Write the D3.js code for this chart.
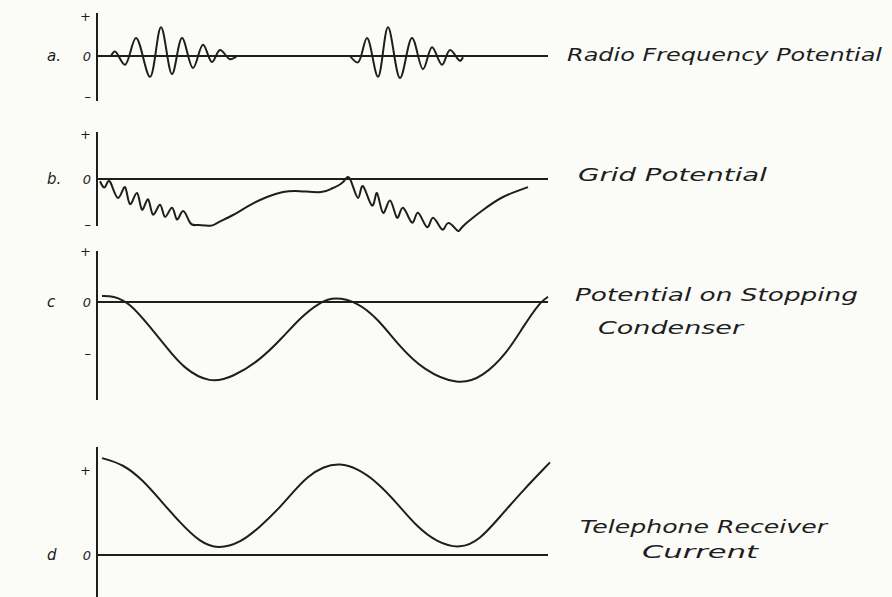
<!DOCTYPE html>
<html>
<head>
<meta charset="utf-8">
<script src="https://cdn.jsdelivr.net/npm/d3@7"></script>
<style>
  html, body { margin: 0; padding: 0; background: #fbfbf8; }
  svg { display: block; }
</style>
</head>
<body>
<script>
'use strict';

var width = 892,
    height = 597;

// values, as [time, relative potential]
var radioFreq1 = [
  [1.4, 0], [1.8, 0.11], [2.8, -0.22], [3.9, 0.45], [5.3, -0.52], [6.4, 0.72],
  [7.5, -0.45], [8.5, 0.45], [9.6, -0.30], [10.6, 0.28], [11.5, -0.15],
  [12.3, 0.15], [13.3, -0.08], [14.0, 0]
];
var radioFreq2 = [
  [25.3, 0], [26.1, -0.16], [27.0, 0.45], [28.1, -0.52], [29.1, 0.72],
  [30.3, -0.55], [31.5, 0.45], [32.6, -0.33], [33.5, 0.22], [34.5, -0.22],
  [35.3, 0.15], [36.3, -0.12], [36.6, -0.03]
];
var gridPotential = [
  [0.3, -0.05], [0.8, -0.18], [1.3, -0.06], [2.1, -0.42], [2.8, -0.18],
  [3.3, -0.56], [4.0, -0.31], [4.5, -0.68], [5.1, -0.45], [5.6, -0.79],
  [6.3, -0.57], [6.8, -0.84], [7.5, -0.64], [8.0, -0.90], [8.6, -0.71],
  [9.3, -0.97], [10.1, -1.02], [11.3, -1.04], [12.0, -0.98], [13.6, -0.80],
  [15.3, -0.58], [17.0, -0.40], [18.6, -0.29], [20.3, -0.27], [22.4, -0.29],
  [23.6, -0.20], [24.6, -0.07], [25.3, 0], [26.1, -0.42], [26.6, -0.16],
  [27.5, -0.59], [28.0, -0.31], [28.6, -0.75], [29.3, -0.48], [30.0, -0.86],
  [30.6, -0.64], [31.5, -0.97], [32.1, -0.75], [33.0, -1.07], [33.6, -0.86],
  [34.5, -1.12], [35.1, -0.98], [36.0, -1.14], [36.6, -1.05], [38.6, -0.69],
  [40.6, -0.40], [43.1, -0.18]
];
var condenserPotential = [
  [0.5, 0.12], [1.6, 0.12], [3.3, -0.02], [5.3, -0.49], [7.0, -0.90],
  [8.6, -1.29], [11.3, -1.60], [13.6, -1.47], [16.3, -1.14], [18.6, -0.69],
  [20.3, -0.31], [22.3, 0], [23.8, 0.10], [26.0, 0], [28.0, -0.31],
  [30.3, -0.88], [32.6, -1.33], [36.1, -1.64], [38.6, -1.47], [41.0, -1.00],
  [42.6, -0.49], [44.3, 0], [45.1, 0.10]
];
var receiverCurrent = [
  [0.5, 1.14], [2.6, 1.07], [4.6, 0.88], [6.3, 0.65], [8.3, 0.38],
  [10.3, 0.15], [12.1, 0.07], [14.3, 0.14], [16.3, 0.33], [18.3, 0.56],
  [19.6, 0.74], [21.0, 0.92], [22.6, 1.04], [24.3, 1.08], [26.0, 1.02],
  [28.0, 0.86], [30.0, 0.61], [32.0, 0.33], [34.0, 0.15], [36.3, 0.07],
  [38.3, 0.18], [40.3, 0.45], [42.6, 0.76], [45.3, 1.09]
];

var panelLetters = ["a.", "b.", "c", "d"];
var panelTitles = [
  ["Radio Frequency Potential"],
  ["Grid Potential"],
  ["Potential on Stopping", "Condenser"],
  ["Telephone Receiver", "Current"]
];
var tickSymbols = { "-1": "\u2013", "0": "0", "1": "+" };

var ink = "#1e1e1e",
    handFont = "'DejaVu Sans', sans-serif";

var svg = d3.select("body").append("svg")
    .attr("width", width)
    .attr("height", height);

svg.append("rect")
    .attr("width", width)
    .attr("height", height)
    .attr("fill", "#fbfbf8");

var x = d3.scaleLinear().domain([0, 45.1]).range([97, 548]);

var wavy = d3.curveCatmullRom.alpha(0.5),
    smooth = d3.curveBasis;

// one entry per strip, top to bottom
var panels = [
  { series: [radioFreq1, radioFreq2], curve: wavy,
    y: d3.scaleLinear().domain([-1, 1]).range([96, 16]),
    ticks: [-1, 0, 1], axisTop: 13, axisBottom: 101,
    titleX: [567], titleY: [61], titleW: [315] },
  { series: [gridPotential], curve: d3.curveNatural,
    y: d3.scaleLinear().domain([-1, 1]).range([224, 134]),
    ticks: [-1, 0, 1], axisTop: 132, axisBottom: 226,
    titleX: [578], titleY: [181], titleW: [189] },
  { series: [condenserPotential], curve: smooth,
    y: d3.scaleLinear().domain([-1, 1]).range([353, 251]),
    ticks: [-1, 0, 1], axisTop: 251, axisBottom: 400,
    titleX: [575, 598], titleY: [301, 334], titleW: [283, 145] },
  { series: [receiverCurrent], curve: smooth,
    y: d3.scaleLinear().domain([0, 1]).range([555, 470]),
    ticks: [0, 1], axisTop: 447, axisBottom: 600,
    titleX: [580, 642], titleY: [533, 558], titleW: [247, 116] }
];

panels.forEach(function(p, i) {
  var g = svg.append("g").attr("class", "panel");

  // vertical axis
  g.append("line")
      .attr("x1", x(0)).attr("x2", x(0))
      .attr("y1", p.axisTop).attr("y2", p.axisBottom)
      .attr("stroke", ink)
      .attr("stroke-width", 2);

  // zero line
  g.append("line")
      .attr("x1", x(0)).attr("x2", x(45.1))
      .attr("y1", p.y(0)).attr("y2", p.y(0))
      .attr("stroke", ink)
      .attr("stroke-width", 2);

  var axis = g.append("g")
      .attr("transform", "translate(" + x(0) + ",0)")
      .call(d3.axisLeft(p.y)
          .tickValues(p.ticks)
          .tickSize(0)
          .tickPadding(6)
          .tickFormat(function(v) { return tickSymbols[String(v)]; }));
  axis.select(".domain").remove();
  axis.selectAll("text")
      .style("font-family", handFont)
      .style("font-size", "13px")
      .style("font-style", "italic")
      .attr("fill", ink);

  var line = d3.line()
      .x(function(d) { return x(d[0]); })
      .y(function(d) { return p.y(d[1]); })
      .curve(p.curve);

  g.selectAll("path.curve")
      .data(p.series)
      .enter().append("path")
      .attr("class", "curve")
      .attr("d", line)
      .attr("fill", "none")
      .attr("stroke", ink)
      .attr("stroke-width", 2)
      .attr("stroke-linejoin", "round");

  g.append("text")
      .attr("x", 47)
      .attr("y", p.y(0) + 5)
      .text(panelLetters[i])
      .style("font-family", handFont)
      .style("font-size", "15px")
      .style("font-style", "italic")
      .attr("fill", ink);

  g.selectAll("text.title")
      .data(panelTitles[i])
      .enter().append("text")
      .attr("class", "title")
      .attr("x", function(d, j) { return p.titleX[j]; })
      .attr("y", function(d, j) { return p.titleY[j]; })
      .attr("textLength", function(d, j) { return p.titleW[j]; })
      .attr("lengthAdjust", "spacingAndGlyphs")
      .text(function(d) { return d; })
      .style("font-family", handFont)
      .style("font-size", "17px")
      .style("font-style", "italic")
      .attr("fill", ink);
});
</script>
</body>
</html>
